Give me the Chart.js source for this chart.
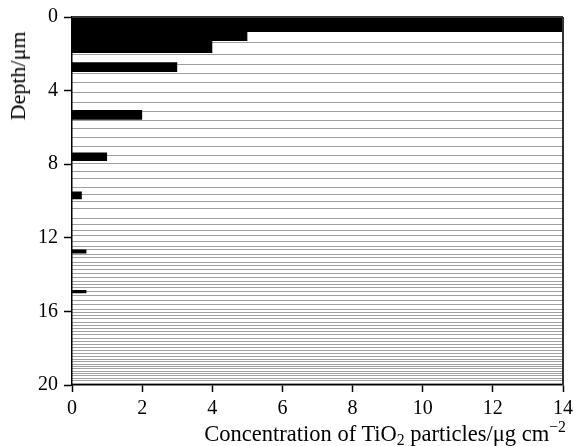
<!DOCTYPE html>
<html>
<head>
<meta charset="utf-8">
<script src="https://cdn.jsdelivr.net/npm/chart.js@4/dist/chart.umd.min.js"></script>
<style>
  html, body { margin: 0; padding: 0; background: #fff; }
  #wrap { position: relative; width: 573px; height: 446px; overflow: hidden; }
  canvas { display: block; }
  .ttl { position: absolute; font-family: "Liberation Serif", "DejaVu Serif", serif; font-size: 22.5px; line-height: 22px; color: #000; white-space: nowrap; }
  #ytitle { left: 18px; top: 76px; font-size: 22px; transform: translate(-50%, -50%) rotate(-90deg); }
  #xtitle { right: 7px; top: 423px; }
  sub, sup { font-size: 70%; line-height: 0; }
  sub { vertical-align: -0.25em; }
  sup { vertical-align: 0.6em; }
</style>
</head>
<body>
<div id="wrap">
  <canvas id="c" width="573" height="446"></canvas>
  <div id="ytitle" class="ttl">Depth/μm</div>
  <div id="xtitle" class="ttl">Concentration of TiO<sub>2</sub> particles/μg cm<sup>−2</sup></div>
</div>
<script>
// ---- data ----
const barTop      = [0, 0.82, 1.30, 2.46, 5.05, 7.36, 9.48, 12.63, 14.84];   // µm
const barBottom   = [0.82, 1.30, 1.96, 2.99, 5.58, 7.82, 9.90, 12.85, 15.03]; // µm
const concentration = [14, 5, 4, 3, 2, 1, 0.28, 0.41, 0.41];                 // µg cm^-2
const layerLines = [1.38, 2.03, 2.57, 3.06, 3.57, 4.11, 4.64, 5.11, 5.61, 6.07, 6.56, 7.05,
  7.52, 7.95, 8.39, 8.80, 9.24, 9.64, 10.04, 10.40, 10.94, 11.27, 11.59, 11.90, 12.19, 12.48,
  12.65, 12.90, 13.08, 13.32, 13.52, 13.73, 13.95, 14.17, 14.35, 14.53, 14.71, 14.93, 15.15,
  15.43, 15.65, 15.87, 16.05, 16.23, 16.41, 16.59, 16.78, 16.92, 17.10, 17.28, 17.46, 17.65,
  17.79, 17.97, 18.11, 18.30, 18.44, 18.59, 18.73, 18.87, 19.02, 19.13, 19.24, 19.38, 19.49,
  19.64, 19.78, 19.90];                                                       // µm
const xTicks = [0, 2, 4, 6, 8, 10, 12, 14];
const yTicks = [0, 4, 8, 12, 16, 20];

// build step profile (x = concentration, y = depth)
const profile = [];
for (let i = 0; i < concentration.length; i++) {
  profile.push({x: 0, y: barTop[i]});
  profile.push({x: concentration[i], y: barTop[i]});
  profile.push({x: concentration[i], y: barBottom[i]});
  profile.push({x: 0, y: barBottom[i]});
}

const tickFont = {family: "'Liberation Serif', 'DejaVu Serif', serif", size: 20};

const frame = {
  id: 'frame',
  afterDatasetsDraw(chart) {
    const {ctx, chartArea: a} = chart;
    ctx.save();
    ctx.strokeStyle = '#333';
    ctx.lineWidth = 2;
    ctx.beginPath();
    ctx.moveTo(a.right, a.top);
    ctx.lineTo(a.right, a.bottom);
    ctx.moveTo(a.left, a.top);
    ctx.lineTo(a.right, a.top);
    ctx.stroke();
    ctx.restore();
  }
};

new Chart(document.getElementById('c'), {
  type: 'line',
  data: {
    datasets: [{
      label: 'TiO2',
      data: profile,
      indexAxis: 'y',
      fill: 'origin',
      backgroundColor: '#000',
      borderColor: 'rgba(0,0,0,0)',
      borderWidth: 0,
      pointRadius: 0,
      tension: 0,
      xAxisID: 'x',
      yAxisID: 'y'
    }]
  },
  options: {
    indexAxis: 'y',
    responsive: false,
    animation: false,
    devicePixelRatio: 1,
    layout: {padding: {top: 17, right: 10, bottom: 0, left: 0}},
    plugins: {legend: {display: false}, tooltip: {enabled: false}},
    scales: {
      x: {
        type: 'linear', position: 'bottom', min: 0, max: 14,
        afterBuildTicks: s => { s.ticks = xTicks.map(v => ({value: v})); },
        afterFit: s => { s.height = 61; s.paddingRight = 0; s.paddingLeft = 0; },
        ticks: {font: tickFont, color: '#000', padding: 5, maxRotation: 0, autoSkip: false},
        grid: {drawOnChartArea: false, tickLength: 7, tickColor: '#000', tickWidth: 1.5},
        border: {color: '#000', width: 1.5}
      },
      y: {
        type: 'linear', position: 'left', min: 0, max: 20, reverse: true,
        afterBuildTicks: s => { s.ticks = yTicks.map(v => ({value: v})); },
        afterFit: s => { s.width = 72; s.paddingTop = 0; s.paddingBottom = 0; },
        ticks: {font: tickFont, color: '#000', padding: 6, autoSkip: false},
        grid: {drawOnChartArea: false, tickLength: 8, tickColor: '#000', tickWidth: 1.5},
        border: {color: '#000', width: 1.5}
      },
      y2: {
        type: 'linear', position: 'left', min: 0, max: 20, reverse: true,
        afterBuildTicks: s => { s.ticks = layerLines.map(v => ({value: v})); },
        afterFit: s => { s.width = 0; s.paddingTop = 0; s.paddingBottom = 0; },
        ticks: {display: false, autoSkip: false},
        grid: {drawOnChartArea: true, drawTicks: false, color: '#a0a0a0', lineWidth: 1},
        border: {display: false}
      }
    }
  },
  plugins: [frame]
});
</script>
</body>
</html>
